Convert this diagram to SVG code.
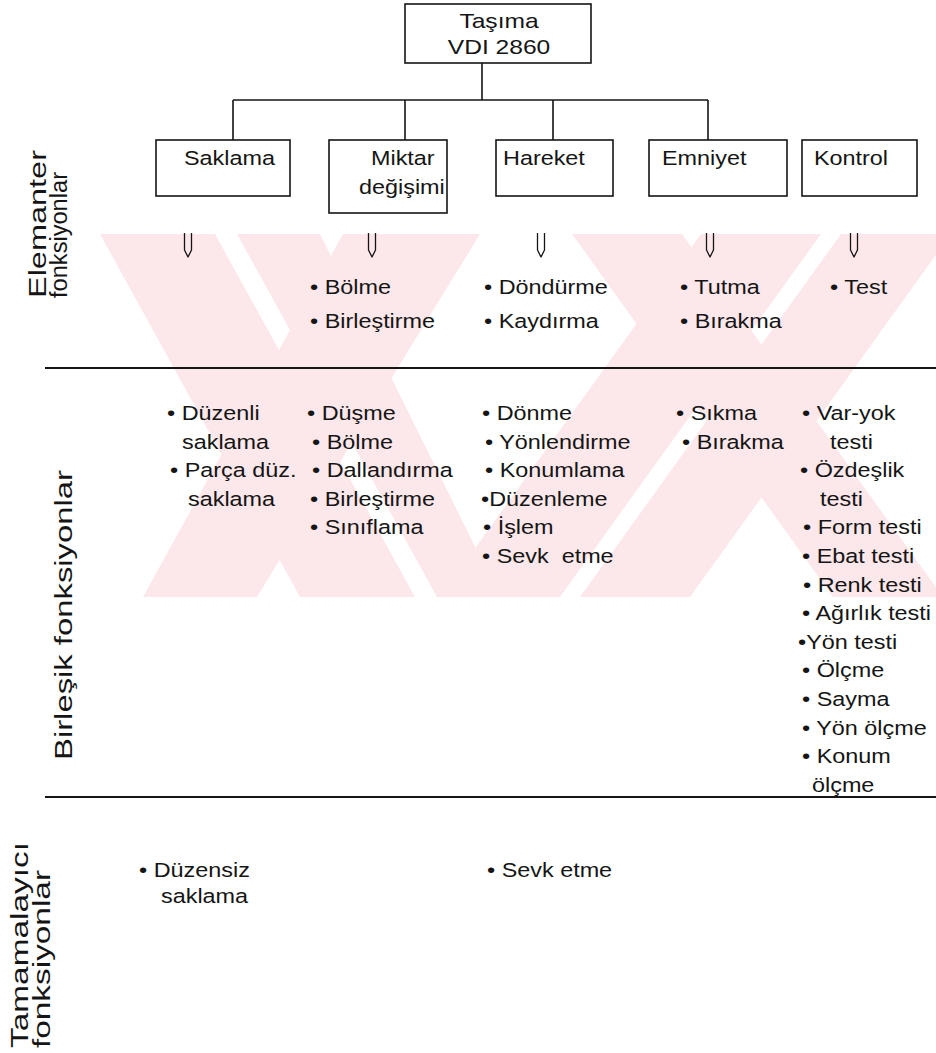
<svg xmlns="http://www.w3.org/2000/svg" width="936" height="1053" viewBox="0 0 936 1053">
<defs>
<style>
.t{font-family:"Liberation Sans",Arial,Helvetica,sans-serif;font-size:19.5px;fill:#151515;white-space:pre}
.h{font-size:20.5px}
.r{font-family:"Liberation Sans",Arial,Helvetica,sans-serif;font-size:23px;fill:#151515}
.bx{fill:#fff;fill-opacity:0;stroke:#151515;stroke-width:1.6}
.ln{fill:none;stroke:#151515;stroke-width:1.6}
.ar{fill:none;stroke:#151515;stroke-width:1.3;stroke-linejoin:round}
.rule{stroke:#151515;stroke-width:2.2}
.wm{fill:#fce7ea}
</style>
<clipPath id="wmclip"><rect x="100" y="234" width="836" height="363"/></clipPath>
</defs>
<rect width="936" height="1053" fill="#fff"/>
<g id="watermark" clip-path="url(#wmclip)">
<polygon class="wm" points="100,234 215,234 415,597 300,597"/>
<polygon class="wm" points="143,597 257,597 480,234 343,234"/>
<polygon class="wm" points="237,234 320,234 500,597 437,597"/>
<polygon class="wm" points="440,597 560,597 821,234 701,234"/>
<polygon class="wm" points="572,234 682,234 943,597 833,597"/>
<polygon class="wm" points="580,597 690,597 951,234 841,234"/>
</g>
<g id="connectors">
<path class="ln" d="M482,63 V100 M233,100 H708 M233,100 V140 M405,100 V140 M553,100 V140 M708,100 V140"/>
<path class="ar" d="M184.5,233 V250 L188,257 L191.5,250 V233"/>
<path class="ar" d="M368.5,233 V250 L372,257 L375.5,250 V233"/>
<path class="ar" d="M537.5,233 V250 L541,257 L544.5,250 V233"/>
<path class="ar" d="M706.5,233 V250 L710,257 L713.5,250 V233"/>
<path class="ar" d="M850.5,233 V250 L854,257 L857.5,250 V233"/>
</g>
<g id="node-tasima">
<rect class="bx" x="405" y="4" width="186" height="59"/>
<text class="t h" text-anchor="middle" transform="translate(499,28) scale(1.2,1)">Taşıma</text>
<text class="t h" text-anchor="middle" transform="translate(499,54) scale(1.2,1)">VDI 2860</text>
</g>
<g id="node-saklama">
<rect class="bx" x="156" y="140" width="134" height="56"/>
<text class="t" transform="translate(184,165) scale(1.2,1)">Saklama</text>
</g>
<g id="node-miktar">
<rect class="bx" x="329" y="140" width="118" height="73"/>
<text class="t" transform="translate(371,165) scale(1.2,1)">Miktar</text>
<text class="t" transform="translate(359,194) scale(1.2,1)">değişimi</text>
</g>
<g id="node-hareket">
<rect class="bx" x="496" y="140" width="117" height="56"/>
<text class="t" transform="translate(503,165) scale(1.2,1)">Hareket</text>
</g>
<g id="node-emniyet">
<rect class="bx" x="649" y="140" width="138" height="56"/>
<text class="t" transform="translate(662,165) scale(1.2,1)">Emniyet</text>
</g>
<g id="node-kontrol">
<rect class="bx" x="802" y="140" width="115" height="56"/>
<text class="t" transform="translate(814,165) scale(1.2,1)">Kontrol</text>
</g>
<g id="section-labels">
<text class="r" font-size="26" textLength="148" lengthAdjust="spacingAndGlyphs" transform="translate(46,298) rotate(-90)">Elemanter</text>
<text class="r" font-size="22" textLength="126" lengthAdjust="spacingAndGlyphs" transform="translate(67,298) rotate(-90)">fonksiyonlar</text>
<text class="r" font-size="24" textLength="290" lengthAdjust="spacingAndGlyphs" transform="translate(72,760) rotate(-90)">Birleşik fonksiyonlar</text>
<text class="r" textLength="206" lengthAdjust="spacingAndGlyphs" transform="translate(28,1048) rotate(-90)">Tamamalayıcı</text>
<text class="r" textLength="178" lengthAdjust="spacingAndGlyphs" transform="translate(50,1048) rotate(-90)">fonksiyonlar</text>
</g>
<g id="rules">
<line class="rule" x1="45" y1="368" x2="936" y2="368"/>
<line class="rule" x1="45" y1="797" x2="936" y2="797"/>
</g>
<g id="elemanter-items">
<text class="t" transform="translate(310,294) scale(1.2,1)">• Bölme</text>
<text class="t" transform="translate(310,328) scale(1.2,1)">• Birleştirme</text>
<text class="t" transform="translate(484,294) scale(1.2,1)">• Döndürme</text>
<text class="t" transform="translate(484,328) scale(1.2,1)">• Kaydırma</text>
<text class="t" transform="translate(680,294) scale(1.2,1)">• Tutma</text>
<text class="t" transform="translate(680,328) scale(1.2,1)">• Bırakma</text>
<text class="t" transform="translate(830,294) scale(1.2,1)">• Test</text>
</g>
<g id="birlesik-items">
<text class="t" transform="translate(167,420) scale(1.2,1)">• Düzenli</text>
<text class="t" transform="translate(182,449) scale(1.2,1)">saklama</text>
<text class="t" transform="translate(170,477) scale(1.2,1)">• Parça düz.</text>
<text class="t" transform="translate(188,506) scale(1.2,1)">saklama</text>
<text class="t" transform="translate(307,420) scale(1.2,1)">• Düşme</text>
<text class="t" transform="translate(312,449) scale(1.2,1)">• Bölme</text>
<text class="t" transform="translate(312,477) scale(1.2,1)">• Dallandırma</text>
<text class="t" transform="translate(310,506) scale(1.2,1)">• Birleştirme</text>
<text class="t" transform="translate(310,534) scale(1.2,1)">• Sınıflama</text>
<text class="t" transform="translate(482,420) scale(1.2,1)">• Dönme</text>
<text class="t" transform="translate(485,449) scale(1.2,1)">• Yönlendirme</text>
<text class="t" transform="translate(485,477) scale(1.2,1)">• Konumlama</text>
<text class="t" transform="translate(481,506) scale(1.2,1)">•Düzenleme</text>
<text class="t" transform="translate(483,534) scale(1.2,1)">• İşlem</text>
<text class="t" transform="translate(482,563) scale(1.2,1)">• Sevk  etme</text>
<text class="t" transform="translate(676,420) scale(1.2,1)">• Sıkma</text>
<text class="t" transform="translate(682,449) scale(1.2,1)">• Bırakma</text>
<text class="t" transform="translate(802,420) scale(1.2,1)">• Var-yok</text>
<text class="t" transform="translate(830,449) scale(1.2,1)">testi</text>
<text class="t" transform="translate(800,477) scale(1.2,1)">• Özdeşlik</text>
<text class="t" transform="translate(820,506) scale(1.2,1)">testi</text>
<text class="t" transform="translate(803,534) scale(1.2,1)">• Form testi</text>
<text class="t" transform="translate(802,563) scale(1.2,1)">• Ebat testi</text>
<text class="t" transform="translate(803,592) scale(1.2,1)">• Renk testi</text>
<text class="t" transform="translate(802,620) scale(1.2,1)">• Ağırlık testi</text>
<text class="t" transform="translate(798,649) scale(1.2,1)">•Yön testi</text>
<text class="t" transform="translate(802,677) scale(1.2,1)">• Ölçme</text>
<text class="t" transform="translate(802,706) scale(1.2,1)">• Sayma</text>
<text class="t" transform="translate(802,735) scale(1.2,1)">• Yön ölçme</text>
<text class="t" transform="translate(802,763) scale(1.2,1)">• Konum</text>
<text class="t" transform="translate(812,792) scale(1.2,1)">ölçme</text>
</g>
<g id="tamamlayici-items">
<text class="t" transform="translate(139,877) scale(1.2,1)">• Düzensiz</text>
<text class="t" transform="translate(161,903) scale(1.2,1)">saklama</text>
<text class="t" transform="translate(487,877) scale(1.2,1)">• Sevk etme</text>
</g>
</svg>
